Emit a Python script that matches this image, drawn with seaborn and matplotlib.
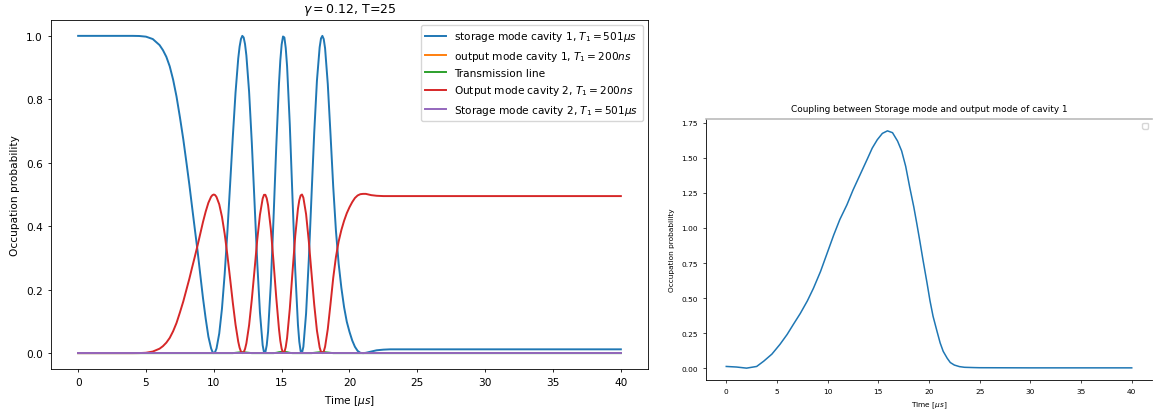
import numpy as np
import pandas as pd
import matplotlib
matplotlib.use("Agg")
import matplotlib.pyplot as plt
import matplotlib.ticker as mticker
import seaborn as sns

# time axis (microseconds)
time_us = [0, 1, 2, 3, 4, 4.5, 5, 5.5, 6, 6.25, 6.5, 6.75, 7, 7.25, 7.5, 7.75,
           8.0, 8.2, 8.4, 8.6, 8.8, 9.0, 9.2, 9.4, 9.6, 9.8, 9.9,
           10.0, 10.1, 10.2, 10.4, 10.6, 10.8, 11.0, 11.2, 11.4, 11.6, 11.8, 11.9,
           12.0, 12.1, 12.2, 12.3, 12.4, 12.6, 12.8, 13.0, 13.2, 13.4, 13.6, 13.7, 13.8, 13.9,
           14.0, 14.2, 14.4, 14.6, 14.8, 14.9, 15.0, 15.1, 15.2, 15.3, 15.4, 15.6, 15.8,
           16.0, 16.2, 16.3, 16.4, 16.5, 16.6, 16.8, 17.0, 17.2, 17.4, 17.6, 17.8, 17.9,
           18.0, 18.1, 18.2, 18.4, 18.6, 18.8, 19.0, 19.2, 19.4, 19.6, 19.8,
           20.0, 20.2, 20.4, 20.6, 20.8, 21.0, 21.2, 21.4, 21.6, 21.8,
           22.0, 22.5, 23, 24, 25, 30, 35, 40]

# storage mode cavity 1
storage_1 = [1.0, 1.0, 1.0, 1.0, 1.0, 0.9996, 0.9975, 0.990, 0.971, 0.955, 0.934, 0.904, 0.862, 0.809, 0.744, 0.674,
             0.595, 0.530, 0.460, 0.391, 0.323, 0.248, 0.174, 0.109, 0.052, 0.015, 0.004,
             0.0, 0.004, 0.015, 0.062, 0.140, 0.249, 0.382, 0.531, 0.682, 0.821, 0.929, 0.966,
             0.990, 1.0, 0.995, 0.974, 0.938, 0.824, 0.663, 0.476, 0.286, 0.128, 0.025, 0.002, 0.003, 0.025,
             0.068, 0.217, 0.424, 0.649, 0.847, 0.922, 0.973, 0.998, 0.995, 0.962, 0.904, 0.720, 0.488,
             0.262, 0.090, 0.036, 0.006, 0.001, 0.020, 0.125, 0.294, 0.496, 0.695, 0.859, 0.964, 0.992,
             1.0, 0.990, 0.961, 0.848, 0.690, 0.525, 0.386, 0.282, 0.206, 0.145, 0.099,
             0.067, 0.040, 0.020, 0.007, 0.001, 0.0, 0.001, 0.003, 0.005, 0.007,
             0.009, 0.011, 0.012, 0.012, 0.012, 0.012, 0.012, 0.012]

# output mode cavity 1
output_1 = [0.0] * len(time_us)

# transmission line
transmission = [0, 0, 0, 0, 0, 0, 0, 0, 0, 0, 0, 0, 0, 0, 0, 0,
                0, 0, 0, 0, 0, 0, 0, 0, 0, 0, 0,
                0, 0, 0, 0, 0, 0, 0, 0, 0, 0.001, 0.002, 0.0025,
                0.003, 0.003, 0.003, 0.0025, 0.002, 0.001, 0, 0, 0, 0, 0, 0, 0, 0,
                0, 0, 0, 0.001, 0.003, 0.0035, 0.004, 0.004, 0.004, 0.0035, 0.003, 0.001, 0,
                0, 0, 0, 0, 0, 0, 0, 0, 0, 0.001, 0.002, 0.003, 0.003,
                0.003, 0.003, 0.003, 0.002, 0.001, 0, 0, 0, 0, 0, 0,
                0, 0, 0, 0, 0, 0, 0, 0, 0, 0,
                0, 0, 0, 0, 0, 0, 0, 0]

# output mode cavity 2
output_2 = [0.0, 0.0, 0.0, 0.0, 0.0, 0.0002, 0.0012, 0.005, 0.014, 0.022, 0.033, 0.048, 0.069, 0.095, 0.128, 0.163,
            0.203, 0.235, 0.270, 0.304, 0.339, 0.376, 0.413, 0.446, 0.474, 0.493, 0.498,
            0.500, 0.498, 0.492, 0.469, 0.430, 0.376, 0.309, 0.235, 0.159, 0.090, 0.036, 0.017,
            0.005, 0.0, 0.003, 0.013, 0.031, 0.088, 0.169, 0.262, 0.357, 0.436, 0.487, 0.499, 0.499, 0.488,
            0.466, 0.392, 0.288, 0.176, 0.077, 0.039, 0.014, 0.001, 0.003, 0.019, 0.048, 0.140, 0.256,
            0.369, 0.455, 0.482, 0.497, 0.500, 0.490, 0.438, 0.353, 0.252, 0.153, 0.071, 0.018, 0.004,
            0.0, 0.005, 0.020, 0.076, 0.155, 0.237, 0.303, 0.352, 0.388, 0.417, 0.441,
            0.460, 0.476, 0.489, 0.497, 0.501, 0.502, 0.502, 0.500, 0.498, 0.497,
            0.496, 0.495, 0.495, 0.495, 0.495, 0.495, 0.495, 0.495]

# storage mode cavity 2
storage_2 = [0.0] * len(time_us)

labels = [r"storage mode cavity 1, $T_1 = 501\mu s$",
          r"output mode cavity 1, $T_1 = 200ns$",
          "Transmission line",
          r"Output mode cavity 2, $T_1 = 200ns$",
          r"Storage mode cavity 2, $T_1 = 501\mu s$"]
series = [storage_1, output_1, transmission, output_2, storage_2]
colors = ["#1f77b4", "#ff7f0e", "#2ca02c", "#d62728", "#9467bd"]

# coupling curve (right panel)
coupling_t = [0, 1, 2.0, 3.0, 3.7, 4.5, 5.3, 6.0, 6.6, 7.3, 8.0, 8.6, 9.3,
              10.0, 10.6, 11.2, 11.9, 12.5, 13.2, 13.9, 14.4, 14.9, 15.4,
              15.9, 16.4, 16.9, 17.3, 17.7, 18.1, 18.5, 18.8, 19.1, 19.4,
              19.8, 20.1, 20.4, 20.8, 21.1, 21.4, 21.8, 22.1, 22.5, 23.0,
              23.5, 24.4, 25, 30, 35, 40]
coupling = [0.012, 0.008, 0.0, 0.012, 0.05, 0.10, 0.17, 0.24, 0.31, 0.39, 0.48, 0.57, 0.69,
            0.83, 0.95, 1.06, 1.165, 1.27, 1.38, 1.49, 1.57, 1.63, 1.675,
            1.693, 1.68, 1.62, 1.55, 1.44, 1.29, 1.15, 1.03, 0.905, 0.775,
            0.61, 0.48, 0.37, 0.26, 0.18, 0.12, 0.07, 0.04, 0.022, 0.011,
            0.006, 0.004, 0.003, 0.002, 0.002, 0.002]

plt.rcParams['font.family'] = ['DejaVu Sans']
fig = plt.figure(figsize=(11.53, 4.14), dpi=100)

# ---- left panel
ax1 = fig.add_axes([51 / 1153, 44 / 414, 597 / 1153, 349 / 414])
for vals, lab, col in zip(series, labels, colors):
    df = pd.DataFrame({"t": time_us, "p": vals})
    sns.lineplot(data=df, x="t", y="p", ax=ax1, color=col, label=lab, linewidth=1.4)
ax1.set_title(r"$\gamma = 0.12$, T=25", fontsize=9)
ax1.set_xlabel(r"Time [$\mu s$]", fontsize=7.6)
ax1.set_ylabel("Occupation probability", fontsize=7.6)
ax1.tick_params(labelsize=7.6, length=2.5, width=0.6)
ax1.legend(loc="upper right", fontsize=7.6)
for sp in ax1.spines.values():
    sp.set_linewidth(0.6)

# ---- right panel
ax2 = fig.add_axes([706 / 1153, 33 / 414, 446 / 1153, 261 / 414])
df2 = pd.DataFrame({"t": coupling_t, "c": coupling})
sns.lineplot(data=df2, x="t", y="c", ax=ax2, color="#1f77b4", linewidth=1.1)
ax2.set_title("Coupling between Storage mode and output mode of cavity 1", fontsize=6.4)
ax2.set_xlabel(r"Time [$\mu s$]", fontsize=5.3)
ax2.set_ylabel("Occupation probability", fontsize=5.3)
ax2.set_xticks([0, 5, 10, 15, 20, 25, 30, 35, 40])
ax2.set_yticks([0, 0.25, 0.5, 0.75, 1.0, 1.25, 1.5, 1.75])
ax2.yaxis.set_major_formatter(mticker.FormatStrFormatter("%.2f"))
ax2.tick_params(labelsize=5.3, length=2.5, width=0.5)
ax2.spines["right"].set_visible(False)
ax2.spines["top"].set_color("#bbbbbb")
ax2.spines["top"].set_linewidth(1.2)
ax2.spines["left"].set_linewidth(0.6)
ax2.spines["bottom"].set_linewidth(0.6)
ax2.legend(loc="upper right", fontsize=5.3)

fig.savefig("out.png", dpi=100)
